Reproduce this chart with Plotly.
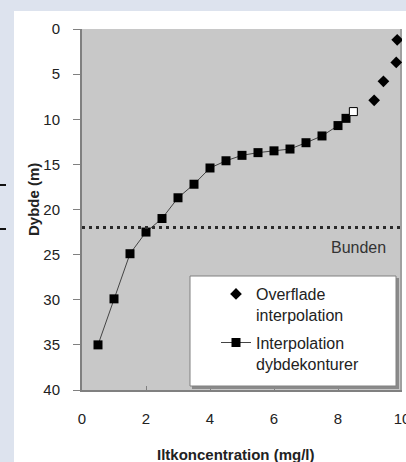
import plotly.graph_objects as go

# ---- data ----
surf_x = [9.85, 9.82, 9.42, 9.13]          # Overflade interpolation (diamonds)
surf_y = [1.2, 3.7, 5.8, 7.9]

contour_x = [0.5, 1.0, 1.5, 2.0, 2.5, 3.0, 3.5, 4.0, 4.5, 5.0, 5.5, 6.0, 6.5, 7.0, 7.5, 8.0, 8.25]
contour_y = [35.0, 29.9, 24.9, 22.5, 21.0, 18.7, 17.2, 15.4, 14.6, 14.0, 13.7, 13.5, 13.3, 12.6, 11.85, 10.7, 9.9]

join_x = [8.48]                              # open marker where the series meet
join_y = [9.15]

bottom_depth = 22
x_ticks = [0, 2, 4, 6, 8, 10]
y_ticks = [0, 5, 10, 15, 20, 25, 30, 35, 40]

W, H = 406, 462
L, R, T, B = 82, 4, 29, 72
PW, PH = W - L - R, H - T - B

def px(x):
    return (x - L) / PW

def py(y):
    return 1 - (y - T) / PH

FONT = "Liberation Sans, Arial, sans-serif"

fig = go.Figure()

fig.add_trace(go.Scatter(
    x=surf_x, y=surf_y, mode="markers", name="Overflade<br>interpolation", legendgroup="a",
    marker=dict(symbol="diamond", size=9, color="black"),
))
fig.add_trace(go.Scatter(
    x=contour_x, y=contour_y, mode="lines+markers", name="Interpolation<br>dybdekonturer", legendgroup="b",
    line=dict(color="#444444", width=1),
    marker=dict(symbol="square", size=9, color="black"),
))
fig.add_trace(go.Scatter(
    x=join_x, y=join_y, mode="markers", showlegend=False,
    marker=dict(symbol="square", size=8, color="white", line=dict(color="black", width=1)),
))

shapes = [
    # white panel
    dict(type="rect", xref="paper", yref="paper", x0=px(14), x1=px(408), y0=py(11), y1=py(464),
         fillcolor="white", line=dict(width=0), layer="below"),
    # gray plot area
    dict(type="rect", xref="paper", yref="paper", x0=0, x1=1, y0=0, y1=1,
         fillcolor="#c8c8c8", line=dict(width=0), layer="below"),
    # right edge shadow
    dict(type="line", xref="paper", yref="paper", x0=px(401), x1=px(401), y0=0, y1=1,
         line=dict(color="#a0a0a0", width=2), layer="below"),
    # bottom (Bunden) line
    dict(type="line", xref="paper", yref="y", x0=0, x1=1, y0=bottom_depth, y1=bottom_depth,
         line=dict(color="#2a2a2a", width=3, dash="3px,4px")),
    # legend shadow + box
    dict(type="rect", xref="paper", yref="paper", x0=px(192), x1=px(399), y0=py(389), y1=py(278),
         fillcolor="#8a8a8a", line=dict(width=0)),
    dict(type="rect", xref="paper", yref="paper", x0=px(190), x1=px(396), y0=py(386), y1=py(276),
         fillcolor="white", line=dict(color="#808080", width=1)),
    # cropped fragments on left edge
    dict(type="line", xref="paper", yref="paper", x0=px(0), x1=px(6), y0=py(185), y1=py(185),
         line=dict(color="#111", width=2)),
    dict(type="line", xref="paper", yref="paper", x0=px(0), x1=px(6), y0=py(229), y1=py(229),
         line=dict(color="#111", width=2)),
]

annotations = [
    dict(text="<b>Iltkoncentration (mg/l)</b>", xref="paper", yref="paper", x=px(236), y=py(454),
         xanchor="center", yanchor="middle", showarrow=False, font=dict(size=15, color="#222", family=FONT)),
    dict(text="<b>Dybde (m)</b>", xref="paper", yref="paper", x=px(34), y=py(200), textangle=-90,
         xanchor="center", yanchor="middle", showarrow=False, font=dict(size=15, color="#222", family=FONT)),
    dict(text="Bunden", xref="paper", yref="paper", x=px(388), y=py(247),
         xanchor="right", yanchor="middle", showarrow=False, font=dict(size=16, color="#333", family=FONT)),
]

fig.update_layout(
    width=W, height=H,
    margin=dict(l=L, r=R, t=T, b=B, pad=0, autoexpand=False),
    paper_bgcolor="#dde3ee",
    plot_bgcolor="rgba(0,0,0,0)",
    font=dict(family=FONT, color="#222"),
    shapes=shapes,
    annotations=annotations,
    legend=dict(x=px(216), y=py(277), xanchor="left", yanchor="top",
                bgcolor="rgba(0,0,0,0)", borderwidth=0, valign="top",
                font=dict(size=16, color="#222", family=FONT), tracegroupgap=4),
    xaxis=dict(range=[0, 10], tickvals=x_ticks, ticks="inside", ticklen=4, tickcolor="#808080",
               showline=True, linecolor="#808080", linewidth=2, showgrid=False, zeroline=False,
               automargin=False,
               tickfont=dict(size=15, color="#222"), ticklabelstandoff=14, ticklabeloverflow="allow"),
    yaxis=dict(range=[40, 0], tickvals=y_ticks, ticks="outside", ticklen=7, tickcolor="#808080",
               showline=True, linecolor="#808080", linewidth=2, showgrid=False, zeroline=False,
               automargin=False,
               tickfont=dict(size=15, color="#222"), ticklabelstandoff=10),
)

fig.write_html("out.html")
